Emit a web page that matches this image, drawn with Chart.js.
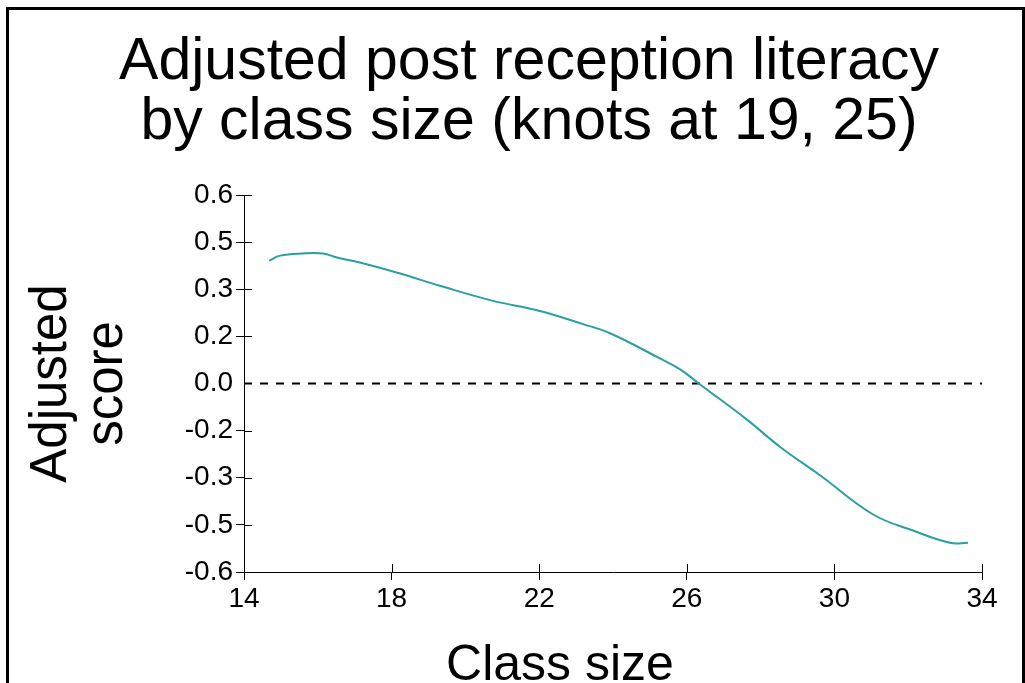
<!DOCTYPE html>
<html>
<head>
<meta charset="utf-8">
<script src="https://cdn.jsdelivr.net/npm/chart.js@4/dist/chart.umd.min.js"></script>
<style>
  html, body { margin: 0; padding: 0; background: #fff; overflow: hidden; }
  #wrap { position: relative; width: 1025px; height: 683px; }
  #frame { position: absolute; left: 6px; top: 7px; width: 1013px; height: 700px;
           border-left: 3px solid #000; border-top: 3px solid #000; border-right: 3px solid #000; }
  canvas { position: absolute; left: 0; top: 0; }
</style>
</head>
<body>
<div id="wrap">
  <div id="frame"></div>
  <canvas id="c" width="1025" height="683"></canvas>
</div>
<script>
// ---- data ----
const classSize = [14.68, 14.98, 15.57, 16.14, 16.52, 17.14, 18.23, 19.31, 20.75, 22.02, 23.19, 23.92, 25.27, 25.82, 26.36, 27.63, 28.53, 29.61, 31.05, 32.13, 33.13, 33.62];
const adjScore  = [0.391, 0.407, 0.414, 0.414, 0.401, 0.385, 0.350, 0.311, 0.263, 0.231, 0.189, 0.160, 0.080, 0.045, -0.003, -0.115, -0.202, -0.292, -0.417, -0.468, -0.507, -0.507];
const refLineX = [14, 34];
const refLineY = [0, 0];
const xTickValues = [14, 18, 22, 26, 30, 34];
const yTickValues = [-0.6, -0.45, -0.3, -0.15, 0, 0.15, 0.3, 0.45, 0.6];
const yTickLabels = ['-0.6', '-0.5', '-0.3', '-0.2', '0.0', '0.2', '0.3', '0.5', '0.6'];
const titleLines = ['Adjusted post reception literacy', 'by class size (knots at 19, 25)'];
const xTitle = 'Class size';
const yTitle = ['Adjusted', 'score'];

const FONT = "'Liberation Sans', Arial, sans-serif";

const curvePts = classSize.map((x, i) => ({ x: x, y: adjScore[i] }));
const refPts = refLineX.map((x, i) => ({ x: x, y: refLineY[i] }));

function shiftTitle(scale, dx, dy) {
  if (!scale || scale._shifted) return;
  const orig = scale.drawTitle;
  scale.drawTitle = function () {
    this.ctx.save();
    this.ctx.translate(dx, dy);
    orig.call(this);
    this.ctx.restore();
  };
  scale._shifted = true;
}

const helpers = {
  id: 'helpers',
  afterLayout(chart) {
    shiftTitle(chart.scales.x, -53, 17);
    shiftTitle(chart.scales.y, -56, 0);
  },
  afterDraw(chart) {
    const { ctx, scales: { x, y }, chartArea } = chart;
    ctx.save();
    ctx.strokeStyle = '#000';
    ctx.lineWidth = 1;
    y.ticks.forEach((t, i) => {
      if (t.value === 0) return;
      const py = Math.round(y.getPixelForTick(i)) + 0.5;
      ctx.beginPath(); ctx.moveTo(chartArea.left, py); ctx.lineTo(chartArea.left + 8, py); ctx.stroke();
    });
    x.ticks.forEach((t, i) => {
      const px = Math.round(x.getPixelForTick(i)) + 0.5;
      ctx.beginPath(); ctx.moveTo(px, chartArea.bottom); ctx.lineTo(px, chartArea.bottom - 8); ctx.stroke();
    });
    ctx.restore();
  }
};

new Chart(document.getElementById('c'), {
  type: 'scatter',
  data: {
    datasets: [
      {
        label: 'Adjusted score',
        data: curvePts,
        showLine: true,
        borderColor: '#2aa0a3',
        borderWidth: 2,
        pointRadius: 0,
        tension: 0.4,
        order: 1
      },
      {
        label: 'Zero',
        data: refPts,
        showLine: true,
        borderColor: '#000',
        borderWidth: 2,
        borderDash: [8, 8],
        pointRadius: 0,
        order: 2
      }
    ]
  },
  options: {
    responsive: false,
    animation: false,
    devicePixelRatio: 1,
    layout: { padding: { left: 76, right: 43, top: 0, bottom: 0 } },
    plugins: {
      legend: { display: false },
      tooltip: { enabled: false },
      title: {
        display: true,
        text: titleLines,
        color: '#000',
        font: { family: FONT, size: 59, weight: 'normal', lineHeight: 60 / 59 },
        padding: { top: 33, bottom: 42 }
      }
    },
    scales: {
      x: {
        type: 'linear',
        min: 14, max: 34,
        afterBuildTicks: s => { s.ticks = xTickValues.map(v => ({ value: v })); },
        afterFit: s => { s.height = 111; },
        grid: { display: true, drawOnChartArea: false, drawTicks: true, tickLength: 8, tickColor: '#000', color: '#000' },
        border: { display: true, color: '#000', width: 1 },
        ticks: { color: '#000', font: { family: FONT, size: 28 }, padding: 2, maxRotation: 0, autoSkip: false,
                 callback: (v) => String(v) },
        title: { display: true, text: xTitle, color: '#000', font: { family: FONT, size: 50 } }
      },
      y: {
        type: 'linear',
        min: -0.6, max: 0.6,
        afterBuildTicks: s => { s.ticks = yTickValues.map(v => ({ value: v })); },
        afterFit: s => { s.width = 168; },
        grid: { display: true, drawOnChartArea: false, drawTicks: true, tickLength: 8,
                tickColor: c => (c.tick && c.tick.value === 0) ? 'rgba(0,0,0,0)' : '#000', color: '#000' },
        border: { display: true, color: '#000', width: 1 },
        ticks: { color: '#000', font: { family: FONT, size: 28 }, padding: 3, autoSkip: false,
                 callback: (v, i) => yTickLabels[i] },
        title: { display: true, text: yTitle, color: '#000', font: { family: FONT, size: 51, lineHeight: 56 / 51 } }
      }
    }
  },
  plugins: [helpers]
});
</script>
</body>
</html>
